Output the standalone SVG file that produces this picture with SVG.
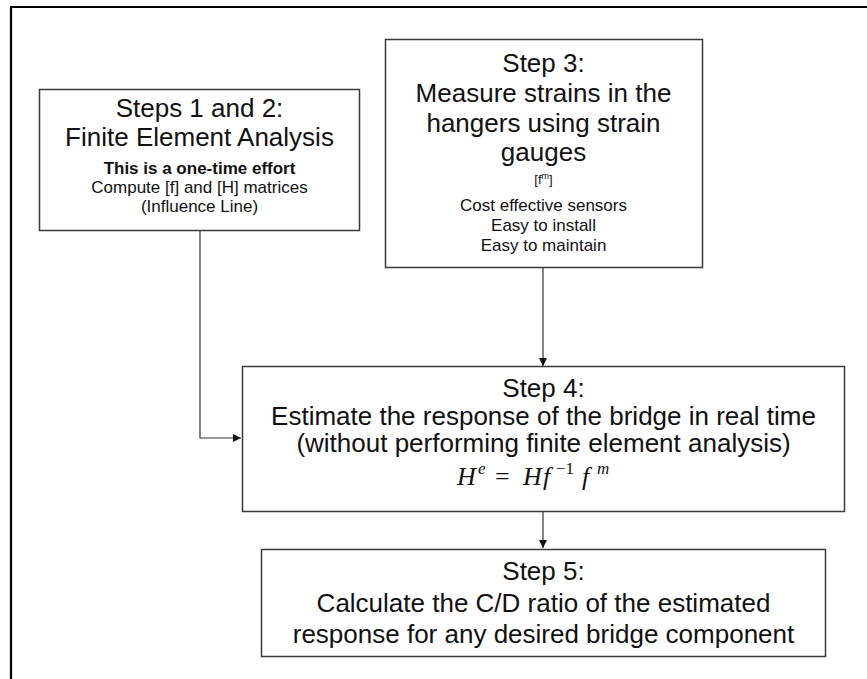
<svg xmlns="http://www.w3.org/2000/svg" width="867" height="679" viewBox="0 0 867 679">
<style>
.box{fill:#fff;stroke:#3a3a3a;stroke-width:1.5}
.t{font-family:"Liberation Sans",Arial,sans-serif;fill:#111;text-anchor:middle}
.big{font-size:26px}
.sm{font-size:17px}
.b{font-weight:bold}
.conn{fill:none;stroke:#333;stroke-width:1.2}
.m{font-family:"Liberation Serif","DejaVu Serif",serif;font-size:26px;fill:#111}
.i{font-style:italic}
.sup{font-size:17px}
</style>
<defs>
<marker id="arr" viewBox="0 0 10 10" refX="10" refY="5" markerWidth="8" markerHeight="8" markerUnits="userSpaceOnUse" orient="auto">
<path d="M0,0 L10,5 L0,10 z" fill="#111"/>
</marker>
</defs>
<rect width="867" height="679" fill="#fff"/>
<path d="M11,679 V7 H867" fill="none" stroke="#000" stroke-width="2.2"/>
<g id="connectors">
<path class="conn" d="M200,231 V438 H241" marker-end="url(#arr)"/>
<path class="conn" d="M543,267 V366" marker-end="url(#arr)"/>
<path class="conn" d="M543,511 V548" marker-end="url(#arr)"/>
</g>
<g id="step12">
<rect class="box" x="39.5" y="89.5" width="320" height="141"/>
<text class="t big" x="199.5" y="117">Steps 1 and 2:</text>
<text class="t big" x="199.5" y="146">Finite Element Analysis</text>
<text class="t sm b" x="199.5" y="174">This is a one-time effort</text>
<text class="t sm" x="199.5" y="193">Compute [f] and [H] matrices</text>
<text class="t sm" x="199.5" y="212">(Influence Line)</text>
</g>
<g id="step3">
<rect class="box" x="385.5" y="39.5" width="317" height="228"/>
<text class="t big" x="543.5" y="72">Step 3:</text>
<text class="t big" x="543.5" y="102">Measure strains in the</text>
<text class="t big" x="543.5" y="131.5">hangers using strain</text>
<text class="t big" x="543.5" y="161">gauges</text>
<text class="t" x="543.5" y="184" font-size="13">[f<tspan font-size="9" dy="-5">m</tspan><tspan dy="5">]</tspan></text>
<text class="t sm" x="543.5" y="211">Cost effective sensors</text>
<text class="t sm" x="543.5" y="231">Easy to install</text>
<text class="t sm" x="543.5" y="251">Easy to maintain</text>
</g>
<g id="step4">
<rect class="box" x="242.5" y="366.5" width="602" height="145"/>
<text class="t big" x="543.5" y="397">Step 4:</text>
<text class="t big" x="543.5" y="425">Estimate the response of the bridge in real time</text>
<text class="t big" x="543.5" y="452">(without performing finite element analysis)</text>
<g id="formula" class="m">
<text class="i" x="457" y="485">H</text>
<text class="i sup" x="478" y="474">e</text>
<text x="495" y="485">=</text>
<text class="i" x="523" y="485">H</text>
<text class="i" x="543" y="485">f</text>
<text class="sup" x="556" y="474">−1</text>
<text class="i" x="582" y="485">f</text>
<text class="i sup" x="597" y="474">m</text>
</g>
</g>
<g id="step5">
<rect class="box" x="261.5" y="549.5" width="564" height="107"/>
<text class="t big" x="543.5" y="580">Step 5:</text>
<text class="t big" x="543.5" y="612">Calculate the C/D ratio of the estimated</text>
<text class="t big" x="543.5" y="643">response for any desired bridge component</text>
</g>
</svg>
